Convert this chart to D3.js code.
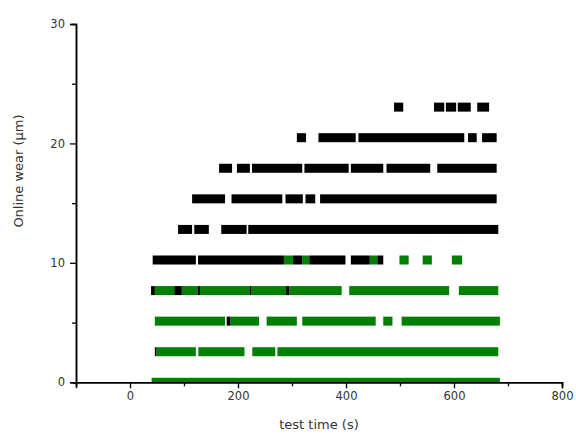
<!DOCTYPE html>
<html>
<head>
<meta charset="utf-8">
<script src="https://cdn.jsdelivr.net/npm/d3@7/dist/d3.min.js"></script>
<style>
  html, body { margin: 0; padding: 0; background: #fff; }
  svg { display: block; }
  .tick text { font-family: "DejaVu Sans", Verdana, sans-serif; fill: #333; }
</style>
</head>
<body>
<svg id="chart" width="576" height="434"></svg>
<script>
// wear levels (µm), indexed by level number
const levels = [0, 2.56, 5.12, 7.68, 10.24, 12.8, 15.36, 17.92, 20.48, 23.04];

// black series runs: [level index, start time (s), end time (s)]
const blackRuns = [
  [9, 489, 506], [9, 563, 582], [9, 585, 604], [9, 607, 631], [9, 643, 665],
  [8, 309, 326], [8, 349, 418], [8, 423, 619], [8, 626, 642], [8, 652, 679],
  [7, 165, 189], [7, 198, 222], [7, 226, 319], [7, 323, 405], [7, 409, 469], [7, 475, 556], [7, 569, 679],
  [6, 115, 176], [6, 188, 282], [6, 288, 320], [6, 325, 343], [6, 352, 679],
  [5, 89, 115], [5, 119, 146], [5, 169, 216], [5, 219, 682],
  [4, 42, 122], [4, 126, 285], [4, 302, 319], [4, 332, 399], [4, 409, 444], [4, 458, 469],
  [3, 39, 46], [3, 82, 96], [3, 125, 129.6], [3, 222, 225], [3, 289, 295],
  [2, 179, 186],
  [1, 46, 49]
];

// green series runs: [level index, start time (s), end time (s)]
const greenRuns = [
  [4, 285, 302], [4, 319, 332], [4, 444, 458], [4, 499, 516], [4, 542, 559], [4, 596, 615],
  [3, 46, 82], [3, 96, 125], [3, 129.6, 222], [3, 225, 289], [3, 295, 392], [3, 406, 591], [3, 609, 682],
  [2, 46, 176], [2, 186, 239], [2, 253, 309], [2, 319, 455], [2, 469, 486], [2, 503, 685],
  [1, 49, 122], [1, 126.5, 212], [1, 226.5, 269], [1, 273, 682],
  [0, 40, 685]
];

const xMajorTicks = [0, 200, 400, 600, 800];
const xMinorTicks = [-100, 100, 300, 500, 700];
const yMajorTicks = [0, 10, 20, 30];
const yMinorTicks = [5, 15, 25];

const svg = d3.select("#chart");
const pLeft = 76, pRight = 562, pTop = 24, pBottom = 382.3;

const x = d3.scaleLinear().domain([-100, 800]).range([pLeft, pRight]);
const y = d3.scaleLinear().domain([0, 30]).range([pBottom, pTop]);

svg.append("defs").append("clipPath").attr("id", "plotclip")
  .append("rect").attr("x", pLeft).attr("y", pTop).attr("width", pRight - pLeft).attr("height", pBottom - pTop);

const plot = svg.append("g").attr("clip-path", "url(#plotclip)");
const barH = 9;

function drawRuns(runs, color) {
  plot.append("g").selectAll("rect").data(runs).join("rect")
    .attr("x", d => x(d[1]))
    .attr("width", d => x(d[2]) - x(d[1]))
    .attr("y", d => y(levels[d[0]]) - barH / 2)
    .attr("height", barH)
    .attr("fill", color);
}
drawRuns(greenRuns, "#008000");
drawRuns(blackRuns, "#000000");

// axes
const xAxis = d3.axisBottom(x).tickValues(xMajorTicks).tickSize(6).tickPadding(4).tickFormat(d3.format("d"));
const xAxisMinor = d3.axisBottom(x).tickValues(xMinorTicks).tickSize(4).tickFormat("");
const yAxis = d3.axisLeft(y).tickValues(yMajorTicks).tickSize(6).tickPadding(5).tickFormat(d3.format("d"));
const yAxisMinor = d3.axisLeft(y).tickValues(yMinorTicks).tickSize(4).tickFormat("");

function styleAxis(g) {
  g.select(".domain").attr("stroke", "#000").attr("stroke-width", 1.5);
  g.selectAll(".tick line").attr("stroke", "#000").attr("stroke-width", 1.3);
  g.selectAll(".tick text").attr("font-size", 11.5).attr("fill", "#333");
}

svg.append("g").attr("transform", `translate(0,${pBottom})`).call(xAxisMinor).call(styleAxis);
svg.append("g").attr("transform", `translate(0,${pBottom})`).call(xAxis).call(styleAxis);
svg.append("g").attr("transform", `translate(${pLeft},0)`).call(yAxisMinor).call(styleAxis);
svg.append("g").attr("transform", `translate(${pLeft},0)`).call(yAxis).call(styleAxis);

svg.append("text")
  .attr("x", 319).attr("y", 429)
  .attr("text-anchor", "middle")
  .attr("font-family", "DejaVu Sans, Verdana, sans-serif")
  .attr("font-size", 13)
  .attr("fill", "#333")
  .text("test time (s)");

svg.append("text")
  .attr("transform", "translate(23,171) rotate(-90)")
  .attr("text-anchor", "middle")
  .attr("font-family", "DejaVu Sans, Verdana, sans-serif")
  .attr("font-size", 13)
  .attr("fill", "#333")
  .text("Online wear (μm)");
</script>
</body>
</html>
